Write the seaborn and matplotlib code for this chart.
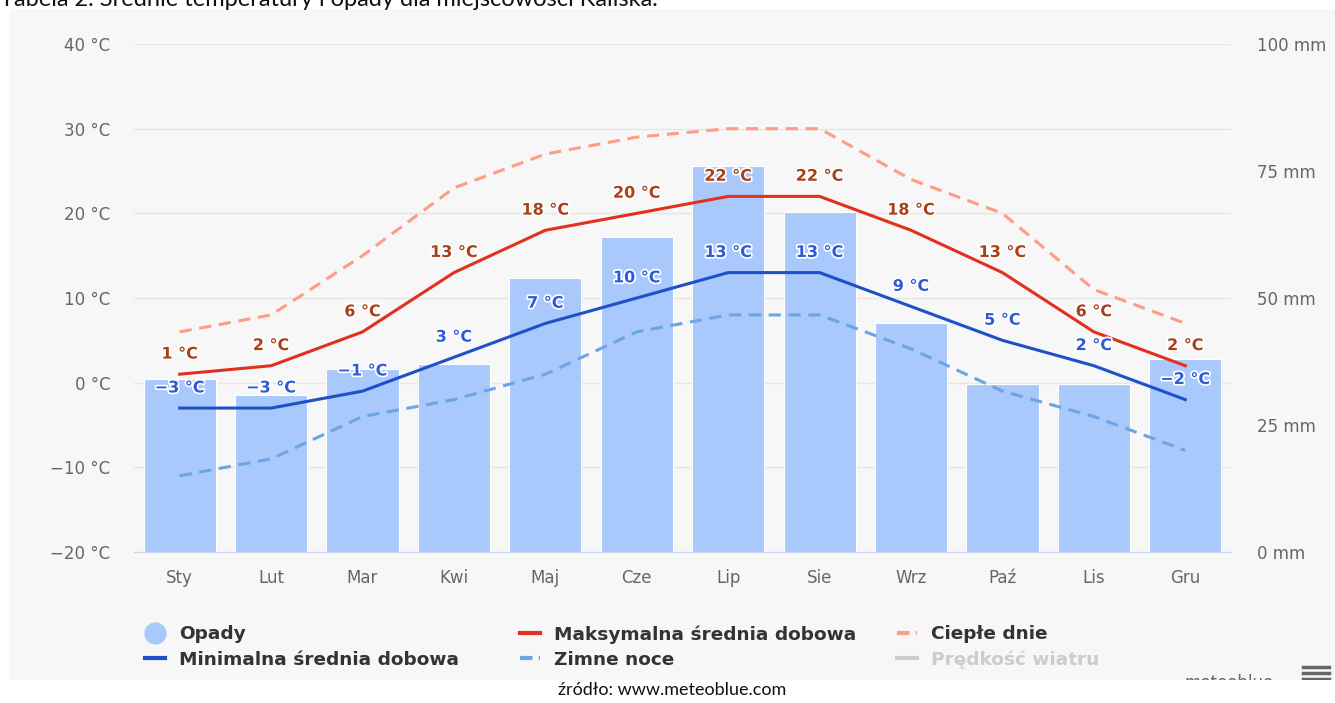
import numpy as np
import pandas as pd
import seaborn as sns
import matplotlib.pyplot as plt
import matplotlib.patheffects as pe
from matplotlib.lines import Line2D
from matplotlib.patches import Rectangle

months = ["Sty", "Lut", "Mar", "Kwi", "Maj", "Cze", "Lip", "Sie", "Wrz", "Paź", "Lis", "Gru"]
opady = [34, 31, 36, 37, 54, 62, 76, 67, 45, 33, 33, 38]
t_max = [1, 2, 6, 13, 18, 20, 22, 22, 18, 13, 6, 2]
t_min = [-3, -3, -1, 3, 7, 10, 13, 13, 9, 5, 2, -2]
cieple_dnie = [6, 8, 15, 23, 27, 29, 30, 30, 24, 20, 11, 7]
zimne_noce = [-11, -9, -4, -2, 1, 6, 8, 8, 4, -1, -4, -8]

temp_ticks = [-20, -10, 0, 10, 20, 30, 40]
mm_ticks = [0, 25, 50, 75, 100]

df = pd.DataFrame({"month": months, "opady": opady, "max": t_max, "min": t_min,
                   "warm": cieple_dnie, "cold": zimne_noce})

c_bar = "#a9c8fc"
c_max = "#e2301d"
c_min = "#2050c9"
c_warm = "#ff9c88"
c_cold = "#6aa6e6"
c_max_lbl = "#a8401a"
c_min_lbl = "#2d5bd6"

plt.rcParams["font.family"] = ["DejaVu Sans"]

fig = plt.figure(figsize=(13.35, 7.03), dpi=100)
fig.patch.set_facecolor("white")

# grey panel behind the chart
fig.add_artist(Rectangle((10 / 1335, 1 - 680 / 703), 1 - 10 / 1335, (680 - 9) / 703,
                         transform=fig.transFigure, facecolor="#f7f7f7", edgecolor="none", zorder=-5))

pos = [134 / 1335, 1 - 552 / 703, (1231 - 134) / 1335, (552 - 44) / 703]
ax = fig.add_axes(pos)
ax2 = fig.add_axes(pos)
ax3 = fig.add_axes(pos)

# temperature axis + grid
ax.set_facecolor("none")
ax.set_ylim(-20, 40)
ax.set_yticks(temp_ticks)
ax.set_yticklabels([f"{t} °C".replace("-", "\u2212") for t in temp_ticks])
ax.set_xlim(-0.5, 11.5)
ax.set_xticks(range(12))
ax.set_xticklabels(months)
ax.grid(axis="y", color="#e6e6e6", lw=1)
ax.set_axisbelow(True)
for s in ["top", "left", "right"]:
    ax.spines[s].set_visible(False)
ax.spines["bottom"].set_color("#ccd6eb")
ax.tick_params(axis="y", length=0, pad=17, labelsize=12, labelcolor="#666666")
ax.tick_params(axis="x", length=0, pad=12, labelsize=12, labelcolor="#666666")

# precipitation bars (right axis)
sns.barplot(data=df, x="month", y="opady", ax=ax2, color=c_bar, saturation=1,
            width=0.79, edgecolor="white", linewidth=0.8)
ax2.set_facecolor("none")
ax2.set_xlim(-0.5, 11.5)
ax2.set_ylim(0, 100)
ax2.yaxis.tick_right()
ax2.set_yticks(mm_ticks)
ax2.set_yticklabels([f"{v} mm" for v in mm_ticks])
ax2.tick_params(axis="y", length=0, pad=19, labelsize=12, labelcolor="#666666")
ax2.tick_params(axis="x", bottom=False, labelbottom=False)
ax2.set_xlabel("")
ax2.set_ylabel("")
for s in ax2.spines.values():
    s.set_visible(False)

# temperature lines
sns.lineplot(data=df, x="month", y="warm", ax=ax3, color=c_warm, lw=2.2,
             linestyle=(0, (4, 2.5)), sort=False)
sns.lineplot(data=df, x="month", y="cold", ax=ax3, color=c_cold, lw=2.2,
             linestyle=(0, (4, 2.5)), sort=False)
sns.lineplot(data=df, x="month", y="max", ax=ax3, color=c_max, lw=2.2, sort=False)
sns.lineplot(data=df, x="month", y="min", ax=ax3, color=c_min, lw=2.2, sort=False)
ax3.set_xlim(-0.5, 11.5)
ax3.set_ylim(-20, 40)
ax3.axis("off")

stroke = [pe.withStroke(linewidth=2.5, foreground="white")]
for i, (hi, lo) in enumerate(zip(t_max, t_min)):
    ax3.annotate(f"{hi} °C".replace("-", "\u2212"), (i, hi), xytext=(0, 14.5),
                 textcoords="offset points", ha="center", va="center",
                 fontsize=11.5, fontweight="bold", color=c_max_lbl, path_effects=stroke)
    ax3.annotate(f"{lo} °C".replace("-", "\u2212"), (i, lo), xytext=(0, 14.5),
                 textcoords="offset points", ha="center", va="center",
                 fontsize=11.5, fontweight="bold", color=c_min_lbl, path_effects=stroke)

# legend, three columns
leg_y = 1 - 647 / 703
cols = [
    (145, [Line2D([], [], marker="o", ls="none", color=c_bar, markersize=15),
           Line2D([], [], color=c_min, lw=3)],
     ["Opady", "Minimalna średnia dobowa"], ["#333333", "#333333"]),
    (520, [Line2D([], [], color=c_max, lw=3),
           Line2D([], [], color=c_cold, lw=3, ls=(0, (3, 1.5, 1, 1.5)))],
     ["Maksymalna średnia dobowa", "Zimne noce"], ["#333333", "#333333"]),
    (897, [Line2D([], [], color=c_warm, lw=3, ls=(0, (3, 1.5, 1, 1.5))),
           Line2D([], [], color="#cccccc", lw=3)],
     ["Ciepłe dnie", "Prędkość wiatru"], ["#333333", "#cccccc"]),
]
for x0, handles, labels, colors in cols:
    leg = fig.legend(handles, labels, loc="center left", bbox_to_anchor=(x0 / 1335, leg_y),
                     frameon=False, borderpad=0, borderaxespad=0, handlelength=1.1,
                     handletextpad=0.75, labelspacing=0.4,
                     prop={"weight": "bold", "size": 13.3})
    for txt, c in zip(leg.get_texts(), colors):
        txt.set_color(c)

fig.text(1185 / 1335, 1 - 683 / 703, "meteoblue", fontsize=12, color="#666666",
         va="center", ha="left", zorder=3)
for dy in (667, 673, 679):
    fig.add_artist(Line2D([1303 / 1335, 1329 / 1335], [1 - dy / 703, 1 - dy / 703],
                          transform=fig.transFigure, color="#666666", lw=2.5, zorder=3))
fig.add_artist(Rectangle((0, 0), 1, 1 - 680 / 703, transform=fig.transFigure,
                         facecolor="white", edgecolor="none", zorder=4))

fig.text(0.0, 1 - 6 / 703, "Tabela 2. Średnie temperatury i opady dla miejscowości Kaliska.",
         fontsize=17, family=["Lato", "DejaVu Sans"], va="baseline", ha="left", color="#111111")
fig.text(672 / 1335, 1 - 690 / 703, "źródło: www.meteoblue.com", fontsize=13,
         family=["Lato", "DejaVu Sans"], ha="center", va="center", color="#111111", zorder=5)

fig.savefig("out.png", dpi=100)
